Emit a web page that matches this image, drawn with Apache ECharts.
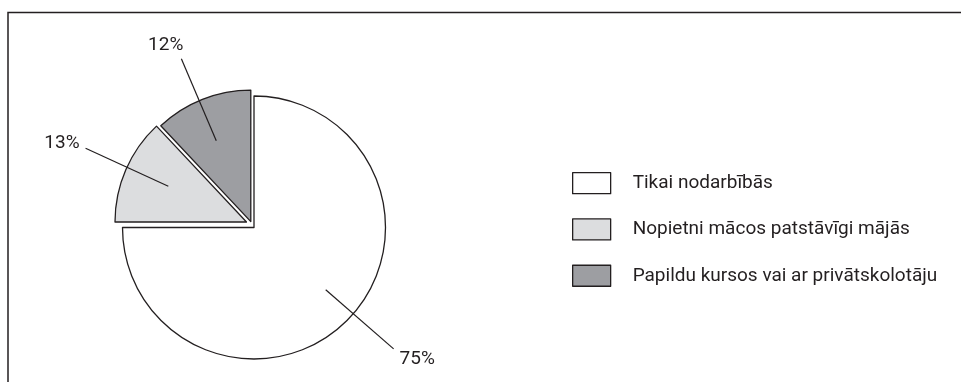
<!DOCTYPE html>
<html><head><meta charset="utf-8">
<script src="https://cdn.jsdelivr.net/npm/echarts@6/dist/echarts.min.js"></script>
<style>html,body{margin:0;padding:0;background:#fff}#c{width:961px;height:382px}</style>
</head><body><div id="c"></div>
<script>
// ---- data ----
const categories = ['Tikai nodarbībās', 'Nopietni mācos patstāvīgi mājās', 'Papildu kursos vai ar privātskolotāju'];
const values = [75, 13, 12];

// ---- style ----
const FONT = "Roboto, 'Liberation Sans', sans-serif";
const INK = '#231f20';
const fills = ['#ffffff', '#dcdddf', '#9d9ea2'];
const centers = [[254, 227.5], [246.5, 222], [250.8, 221.6]];
const R = 131.5;
const labelRadius = [95, 86, 88];
const lineLen = [90, 91, 89];
const angleTweak = [4, -1.2, 1.5];
const labelStyles = [
  {distanceToLabelLine: 6, formatter: ' \n{c}%', lineHeight: 20},
  {distanceToLabelLine: 6, formatter: '{c}%\n ', lineHeight: 10},
  {distanceToLabelLine: -2, formatter: '{c}%\n ', lineHeight: 28}
];

const series = [];
categories.forEach((_, i) => {
  // visible slice
  series.push({
    type: 'pie', z: 2, center: centers[i], radius: R, startAngle: 90,
    silent: true, avoidLabelOverlap: false, emphasis: {disabled: true},
    label: {show: false}, labelLine: {show: false},
    data: categories.map((n, j) => ({
      name: n, value: values[j],
      itemStyle: j === i ? {color: fills[j], borderColor: INK, borderWidth: 1.3}
                         : {color: 'rgba(0,0,0,0)', borderWidth: 0}
    }))
  });
  // label + leader line
  series.push({
    type: 'pie', z: 6, center: centers[i], radius: labelRadius[i], startAngle: 90 + angleTweak[i],
    silent: true, avoidLabelOverlap: false, emphasis: {disabled: true},
    itemStyle: {color: 'rgba(0,0,0,0)', borderWidth: 0},
    data: categories.map((n, j) => ({
      name: n, value: values[j],
      label: j === i ? Object.assign({show: true, position: 'outside', alignTo: 'none',
        fontFamily: FONT, fontSize: 19, color: INK}, labelStyles[i]) : {show: false},
      labelLine: j === i ? {show: true, showAbove: true, length: lineLen[i], length2: 0, smooth: false,
        lineStyle: {color: INK, width: 1.2}} : {show: false}
    }))
  });
});

const chart = echarts.init(document.getElementById('c'), null, {renderer: 'canvas'});
chart.setOption({
  animation: false,
  backgroundColor: '#ffffff',
  legend: {
    orient: 'vertical', left: 572, top: 172, padding: 0,
    itemWidth: 38, itemHeight: 21, itemGap: 24, selectedMode: false,
    textStyle: {fontFamily: FONT, fontSize: 19, color: INK, padding: [3, 0, 0, 17]},
    data: categories.map((n, i) => ({
      name: n, icon: 'rect',
      itemStyle: {color: fills[i], borderColor: INK, borderWidth: 1.3}
    }))
  },
  graphic: [{
    type: 'polyline', silent: true,
    shape: {points: [[8, 400], [8, 12.5], [980, 12.5]]},
    style: {fill: null, stroke: INK, lineWidth: 1.5}
  }],
  series: series
});
</script></body></html>
